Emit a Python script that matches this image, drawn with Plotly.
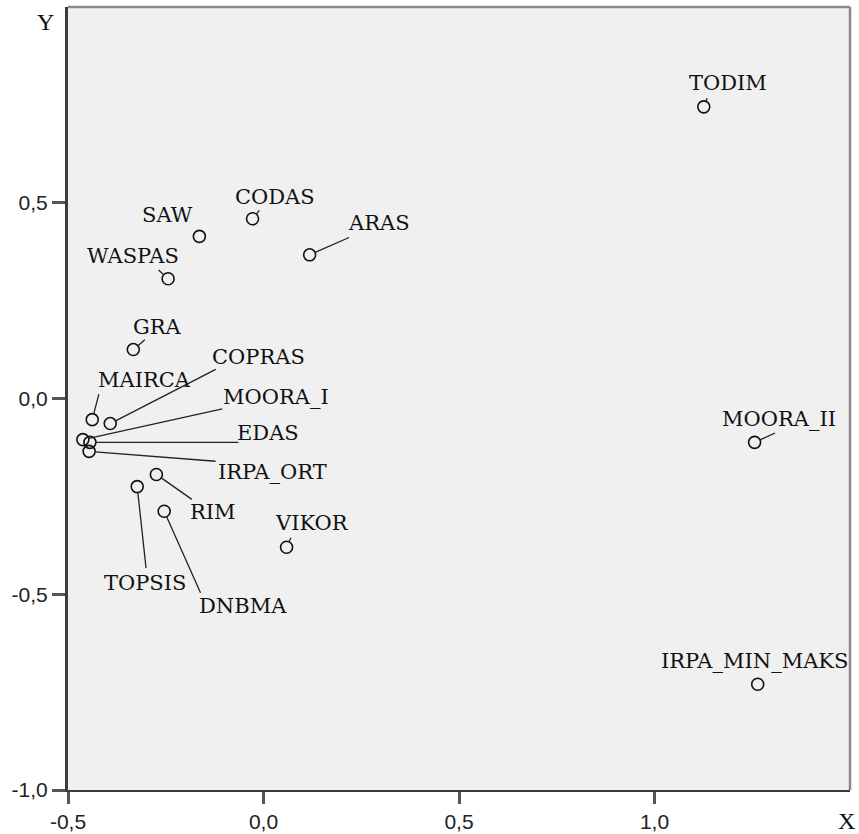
import plotly.graph_objects as go

# Coordinates of each method in the two-dimensional solution
names = ["TODIM", "SAW", "CODAS", "ARAS", "WASPAS", "GRA", "MAIRCA", "COPRAS",
         "MOORA_I", "EDAS", "IRPA_ORT", "RIM", "TOPSIS", "DNBMA", "VIKOR",
         "MOORA_II", "IRPA_MIN_MAKS"]
x_vals = [1.126, -0.164, -0.028, 0.118, -0.244, -0.333, -0.438, -0.392,
          -0.462, -0.444, -0.446, -0.274, -0.323, -0.254, 0.059,
          1.256, 1.264]
y_vals = [0.745, 0.414, 0.459, 0.367, 0.306, 0.125, -0.054, -0.064,
          -0.105, -0.112, -0.135, -0.194, -0.225, -0.288, -0.380,
          -0.112, -0.730]

x_ticks = [-0.5, 0.0, 0.5, 1.0]
x_tick_text = ["-0,5", "0,0", "0,5", "1,0"]
y_ticks = [-1.0, -0.5, 0.0, 0.5]
y_tick_text = ["-1,0", "-0,5", "0,0", "0,5"]

# label placement relative to its point, in screen pixels (dx right, dy down)
label_offset = {
    "TODIM": (24, -24), "SAW": (-32, -21), "CODAS": (22, -22), "ARAS": (69, -32),
    "WASPAS": (-35, -23), "GRA": (24, -23), "MAIRCA": (52, -40),
    "COPRAS": (148, -67), "MOORA_I": (193, -43), "EDAS": (178, -9),
    "IRPA_ORT": (183, 21), "RIM": (57, 38), "TOPSIS": (8, 96),
    "DNBMA": (79, 95), "VIKOR": (25, -24), "MOORA_II": (24, -23),
    "IRPA_MIN_MAKS": (-3, -23),
}
# far end of each leader line, in screen pixels from the point
leader_tail = {
    "TODIM": (4, -10), "CODAS": (8, -10), "ARAS": (41, -18), "WASPAS": (-11, -10),
    "GRA": (13, -11), "MAIRCA": (7, -27), "COPRAS": (107, -55),
    "MOORA_I": (141, -31), "EDAS": (150, 0), "IRPA_ORT": (128, 10),
    "RIM": (37, 26), "TOPSIS": (9, 83), "DNBMA": (37, 83), "VIKOR": (5, -11),
    "MOORA_II": (22, -10),
}

AX_COLOR = "#3c3c3c"
LABEL_FONT = dict(family="DejaVu Serif", size=21, color="#111111")
TICK_FONT = dict(family="Liberation Sans", size=21, color="#222222")

fig = go.Figure()
fig.add_trace(go.Scatter(
    x=x_vals, y=y_vals, mode="markers",
    marker=dict(symbol="circle-open", size=12, color="#111111",
                line=dict(width=1.6, color="#111111")),
    hoverinfo="text", text=names, showlegend=False,
))

annotations = []
for name, xv, yv in zip(names, x_vals, y_vals):
    if name in leader_tail:
        tx, ty = leader_tail[name]
        annotations.append(dict(
            x=xv, y=yv, xref="x", yref="y", text="", showarrow=True,
            ax=tx, ay=ty, axref="pixel", ayref="pixel",
            arrowhead=0, arrowwidth=1.3, arrowcolor="#222222", standoff=6,
        ))
    dx, dy = label_offset[name]
    annotations.append(dict(
        x=xv, y=yv, xref="x", yref="y", text=name, showarrow=False,
        xanchor="center", yanchor="middle", xshift=dx, yshift=-dy,
        font=LABEL_FONT,
    ))

# axis titles at the ends of the axes
annotations.append(dict(x=0, y=1, xref="paper", yref="paper", text="Y",
                        showarrow=False, xanchor="right", yanchor="middle",
                        xshift=-12, yshift=-15,
                        font=dict(family="Liberation Serif", size=24, color="#111111")))
annotations.append(dict(x=1, y=0, xref="paper", yref="paper", text="X",
                        showarrow=False, xanchor="center", yanchor="middle",
                        xshift=-4, yshift=-31,
                        font=dict(family="Liberation Serif", size=24, color="#111111")))

fig.update_layout(
    width=859, height=834,
    margin=dict(l=68, r=9, t=7, b=44),
    paper_bgcolor="white", plot_bgcolor="#f0f0f0",
    annotations=annotations,
    shapes=[
        dict(type="line", xref="paper", yref="paper", x0=0, x1=1, y0=1, y1=1,
             line=dict(color="#8a8a8a", width=2.5)),
        dict(type="line", xref="paper", yref="paper", x0=1, x1=1, y0=0, y1=1,
             line=dict(color="#8a8a8a", width=2.5)),
    ],
)
fig.update_xaxes(
    range=[-0.5, 1.5], tickvals=x_ticks, ticktext=x_tick_text, automargin=False,
    showgrid=False, zeroline=False, showline=True, linecolor=AX_COLOR, linewidth=2,
    ticks="outside", ticklen=12, tickwidth=3, tickcolor="#555555",
    tickfont=TICK_FONT,
)
fig.update_yaxes(
    range=[-1.0, 1.0], tickvals=y_ticks, ticktext=y_tick_text, automargin=False,
    showgrid=False, zeroline=False, showline=True, linecolor=AX_COLOR, linewidth=3,
    ticks="outside", ticklen=13, tickwidth=3, tickcolor="#555555",
    tickfont=TICK_FONT,
)

fig.write_html("out.html")
